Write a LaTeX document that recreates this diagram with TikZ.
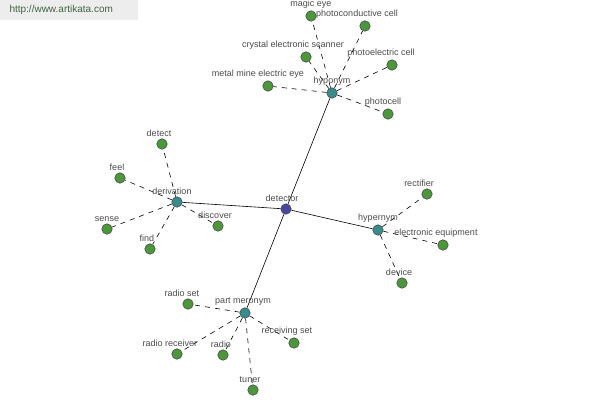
\documentclass[tikz,border=0pt]{standalone}
\usepackage{fontspec}
\setmainfont{Liberation Sans}
\usetikzlibrary{shapes,arrows,backgrounds,positioning}
\definecolor{rootblue}{RGB}{72,72,160}
\definecolor{reltl}{RGB}{58,140,140}
\definecolor{leafgreen}{RGB}{76,150,60}
\definecolor{lblgray}{RGB}{75,75,75}
\tikzset{
  wnode/.style = {circle, inner sep=0pt, minimum size=10.5pt,
    draw=black!75, line width=0.5pt},
  w_root/.style = {wnode, fill=rootblue},% detector
  w_rel/.style = {wnode, fill=reltl},% relation
  w_leaf/.style = {wnode, fill=leafgreen},% word
  lbl/.style = {font=\fontsize{9}{10}\selectfont, text=lblgray,
    inner sep=0pt, label distance=2pt},
  rel_e/.style = {line width=0.6pt, black},
  leaf_e/.style = {line width=0.6pt, black, dash pattern=on 5pt off 5pt}
}
\begin{document}
\begin{tikzpicture}[x=1pt,y=-1pt]
        \useasboundingbox (0,0) rectangle (600,400);
        \fill[black!7] (0,0) rectangle (138,20);
        \node[font=\fontsize{10}{11}\selectfont, text=lblgray!85!green, anchor=west](site) at (6,10){http://www.artikata.com};

        % centre and relations
        \node [w_root, label={[lbl,xshift=-4pt]above:detector}](det) at (286,209){};
        \node [w_rel, label={[lbl]above:hyponym}](hypo) at (332,93){};
        \node [w_rel, label={[lbl,xshift=-5pt]above:derivation}](deri) at (177,202){};
        \node [w_rel, label={[lbl]above:hypernym}](hyper) at (378,230){};
        \node [w_rel, label={[lbl,xshift=-2pt]above:part meronym}](mero) at (245,313){};

        % hyponym
        \node [w_leaf, label={[lbl]above:magic eye}](magic) at (311,16){};
        \node [w_leaf, label={[lbl,xshift=-8pt]above:photoconductive cell}](pcond) at (365,26){};
        \node [w_leaf, label={[lbl,xshift=-13pt]above:crystal electronic scanner}](crys) at (306,57){};
        \node [w_leaf, label={[lbl,xshift=-11pt]above:photoelectric cell}](pelec) at (392,65){};
        \node [w_leaf, label={[lbl,xshift=-10pt]above:metal mine electric eye}](metal) at (268,86){};
        \node [w_leaf, label={[lbl,xshift=-5pt]above:photocell}](pcell) at (388,114){};

        % derivation
        \node [w_leaf, label={[lbl,xshift=-3pt]above:detect}](detect) at (162,144){};
        \node [w_leaf, label={[lbl,xshift=-3pt]above:feel}](feel) at (120,178){};
        \node [w_leaf, label={[lbl]above:sense}](sense) at (107,229){};
        \node [w_leaf, label={[lbl,xshift=-3pt]above:find}](find) at (150,249){};
        \node [w_leaf, label={[lbl,xshift=-3pt]above:discover}](disc) at (218,226){};

        % hypernym
        \node [w_leaf, label={[lbl,xshift=-8pt]above:rectifier}](rect) at (427,194){};
        \node [w_leaf, label={[lbl,xshift=-7pt]above:electronic equipment}](eequip) at (443,245){};
        \node [w_leaf, label={[lbl,xshift=-3pt]above:device}](device) at (402,283){};

        % part meronym
        \node [w_leaf, label={[lbl,xshift=-6pt]above:radio set}](rset) at (188,304){};
        \node [w_leaf, label={[lbl,xshift=-7pt]above:radio receiver}](rrecv) at (177,354){};
        \node [w_leaf, label={[lbl,xshift=-2pt]above:radio}](radio) at (223,355){};
        \node [w_leaf, label={[lbl,xshift=-7pt]above:receiving set}](recset) at (294,343){};
        \node [w_leaf, label={[lbl,xshift=-3pt]above:tuner}](tuner) at (253,390){};

        \begin{scope}[on background layer]
        \draw[rel_e] (det) -- (hypo);
        \draw[rel_e] (det) -- (deri);
        \draw[rel_e] (det) -- (hyper);
        \draw[rel_e] (det) -- (mero);

        \draw[leaf_e] (hypo) -- (magic);
        \draw[leaf_e] (hypo) -- (pcond);
        \draw[leaf_e] (hypo) -- (crys);
        \draw[leaf_e] (hypo) -- (pelec);
        \draw[leaf_e] (hypo) -- (metal);
        \draw[leaf_e] (hypo) -- (pcell);

        \draw[leaf_e] (deri) -- (detect);
        \draw[leaf_e] (deri) -- (feel);
        \draw[leaf_e] (deri) -- (sense);
        \draw[leaf_e] (deri) -- (find);
        \draw[leaf_e] (deri) -- (disc);

        \draw[leaf_e] (hyper) -- (rect);
        \draw[leaf_e] (hyper) -- (eequip);
        \draw[leaf_e] (hyper) -- (device);

        \draw[leaf_e] (mero) -- (rset);
        \draw[leaf_e] (mero) -- (rrecv);
        \draw[leaf_e] (mero) -- (radio);
        \draw[leaf_e] (mero) -- (recset);
        \draw[leaf_e] (mero) -- (tuner);
        \end{scope}

        \end{tikzpicture}
\end{document}
